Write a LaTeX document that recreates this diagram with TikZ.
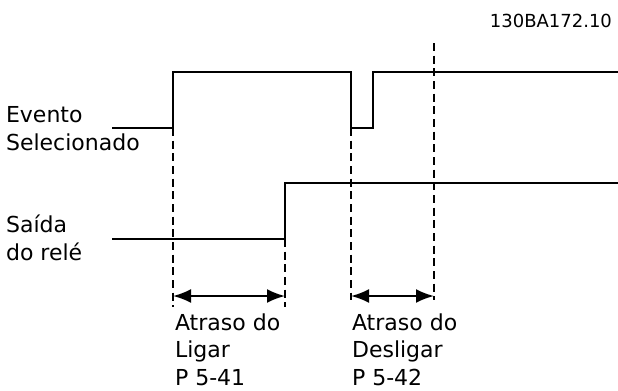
\documentclass[tikz,border=0pt]{standalone}
\usepackage{fontspec}
\setmainfont{DejaVu Sans}
\usetikzlibrary{arrows.meta}
\begin{document}
\begin{tikzpicture}[x=0.75pt,y=-0.75pt,line width=1.6pt,
    span/.style={{Latex[length=13.5pt,width=10.5pt]}-{Latex[length=13.5pt,width=10.5pt]}},
    txt/.style={font=\fontsize{16.5}{20.3}\selectfont,inner sep=0pt,align=left,anchor=base west},
    guide/.style={line width=1.3pt,dash pattern=on 6pt off 3.5pt}]
\useasboundingbox (0,0) rectangle (618,390);
\node[anchor=base east,inner sep=0pt,font=\fontsize{13.5}{15}\selectfont] (code) at (613,27) {130BA172.10};
% sinais
\begin{scope}
    \draw (112,128) -- (173,128) coordinate (on1) |- (351,72) coordinate (off1) |- (373,128) |- (618,72);
    \node[txt] (evento) at (5,150) {Evento\\Selecionado};
\end{scope}
\begin{scope}
    \draw (112,239) -- (285,239) coordinate (on2) |- (618,183);
    \node[txt] (saida) at (5,260) {Saída\\do relé};
\end{scope}
% linhas de tempo
\coordinate (off1) at (351,128);
\coordinate (off2) at (434,43);
\foreach \c/\y in {on1/307,on2/307,off1/300,off2/300}
{
    \draw[guide] (\c) -- (\c |- 0,\y) coordinate (\c-end);
}
\draw[span] (on1 |- 0,296) coordinate (a1) -- (on2 |- 0,296) coordinate (a2);
\draw[span] (off1 |- 0,296) coordinate (b1) -- (off2 |- 0,296) coordinate (b2);
\node[txt] (ligar) at (174,385) {Atraso do\\Ligar\\P 5-41};
\node[txt] (desligar) at (351,385) {Atraso do\\Desligar\\P 5-42};
\end{tikzpicture}
\end{document}
